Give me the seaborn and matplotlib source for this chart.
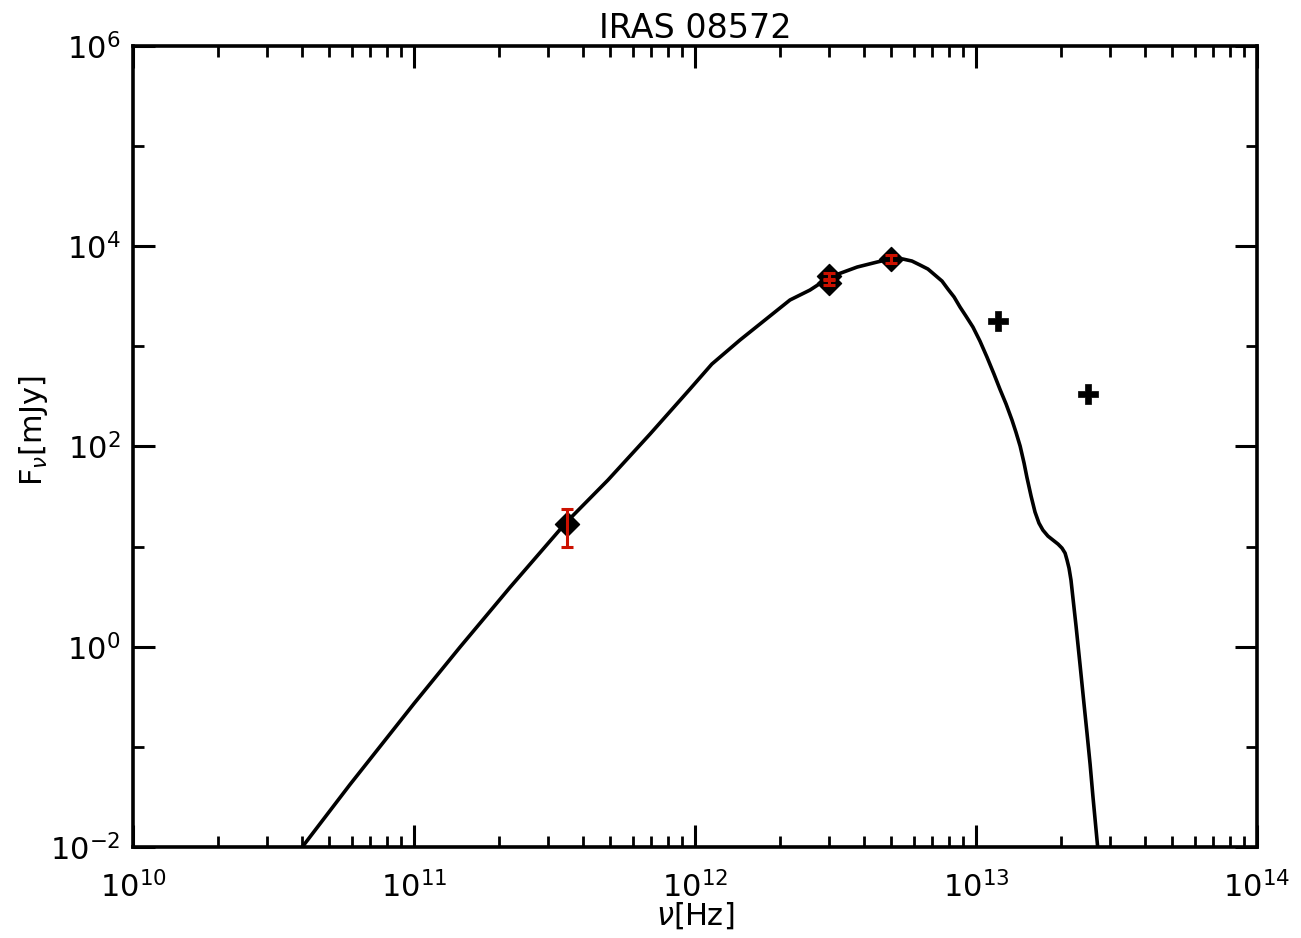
import numpy as np
import pandas as pd
import matplotlib
matplotlib.use("Agg")
import matplotlib.pyplot as plt
import matplotlib.ticker as mticker
import seaborn as sns

# SED model curve (log10 of frequency in Hz, log10 of flux density in mJy)
model_log_nu = [10.591, 10.772, 11.000, 11.164, 11.342, 11.541, 11.690, 11.840,
                11.982, 12.060, 12.160, 12.249, 12.338, 12.409, 12.480, 12.577,
                12.648, 12.694, 12.740, 12.772, 12.801, 12.829, 12.854, 12.879,
                12.900, 12.922, 12.943, 12.964, 12.989, 13.014, 13.039, 13.064,
                13.085, 13.107, 13.128, 13.142, 13.157, 13.171, 13.181, 13.196,
                13.210, 13.224, 13.238, 13.256, 13.274, 13.292, 13.306, 13.317,
                13.324, 13.331, 13.338, 13.345, 13.356, 13.370, 13.384, 13.395,
                13.406, 13.416, 13.434]
model_log_flux = [-2.042, -1.377, -0.568, -0.003, 0.594, 1.240, 1.664, 2.124,
                  2.573, 2.823, 3.063, 3.263, 3.463, 3.562, 3.692, 3.792,
                  3.842, 3.872, 3.872, 3.852, 3.812, 3.772, 3.712, 3.652,
                  3.572, 3.493, 3.393, 3.303, 3.193, 3.053, 2.893, 2.723,
                  2.573, 2.424, 2.264, 2.144, 2.004, 1.834, 1.694, 1.504,
                  1.345, 1.235, 1.165, 1.105, 1.065, 1.025, 0.985, 0.935,
                  0.865, 0.785, 0.665, 0.486, 0.206, -0.174, -0.563, -0.863,
                  -1.173, -1.493, -2.032]

# Photometry used in the fit (Hz, mJy, 1-sigma errors in mJy)
fit_nu = [3.5e11, 3.0e12, 3.0e12, 5.0e12]
fit_flux = [17.0, 5050.0, 4300.0, 7450.0]
fit_err_lo = [7.1, 350.0, 210.0, 650.0]
fit_err_hi = [6.7, 350.0, 260.0, 700.0]

# Mid-infrared photometry not used in the fit
extra_nu = [1.2e13, 2.5e13]
extra_flux = [1790.0, 333.0]

model = pd.DataFrame({"nu": np.power(10.0, model_log_nu),
                      "flux": np.power(10.0, model_log_flux)})
fit = pd.DataFrame({"nu": fit_nu, "flux": fit_flux})
extra = pd.DataFrame({"nu": extra_nu, "flux": extra_flux})

sns.set_theme(style="white")
plt.rcParams["font.family"] = ["DejaVu Sans"]
plt.rcParams["mathtext.fontset"] = "dejavusans"
for key in ("text.color", "axes.labelcolor", "xtick.color", "ytick.color",
            "axes.edgecolor"):
    plt.rcParams[key] = "black"

fig = plt.figure(figsize=(13.01, 9.38), dpi=100)
ax = fig.add_axes([0.1022, 0.0970, 0.8640, 0.8540])

ax.set_xscale("log")
ax.set_yscale("log")

sns.lineplot(data=model, x="nu", y="flux", sort=False, color="black",
             linewidth=2.6, ax=ax, zorder=2)
sns.scatterplot(data=fit, x="nu", y="flux", marker="D", s=150, color="black",
                edgecolor="black", linewidth=1.0, ax=ax, zorder=3)
ax.errorbar(fit_nu, fit_flux, yerr=[fit_err_lo, fit_err_hi], fmt="none",
            ecolor="#cc1100", elinewidth=2.2, capsize=4, capthick=2.2, zorder=4)
sns.scatterplot(data=extra, x="nu", y="flux", marker="P", s=220, color="black",
                edgecolor="black", linewidth=0.5, ax=ax, zorder=3)

ax.set_xlim(1e10, 1e14)
ax.set_ylim(1e-2, 1e6)

ax.xaxis.set_major_locator(mticker.LogLocator(base=10, numticks=10))
ax.xaxis.set_minor_locator(mticker.LogLocator(base=10, subs=np.arange(2, 10), numticks=20))
ax.xaxis.set_minor_formatter(mticker.NullFormatter())
ax.yaxis.set_major_locator(mticker.FixedLocator([1e-2, 1e0, 1e2, 1e4, 1e6]))
ax.yaxis.set_minor_locator(mticker.FixedLocator([1e-1, 1e1, 1e3, 1e5]))
ax.yaxis.set_minor_formatter(mticker.NullFormatter())
ax.yaxis.set_major_formatter(mticker.LogFormatterSciNotation())

ax.tick_params(which="both", direction="in", top=True, right=True,
               bottom=True, left=True, color="black")
ax.tick_params(which="major", length=16, width=2.2, labelsize=22)
ax.tick_params(axis="x", which="major", pad=17)
ax.tick_params(axis="y", which="major", length=16, pad=9)
ax.tick_params(which="minor", length=8, width=2.0)
for side in ax.spines.values():
    side.set_linewidth(2.6)
    side.set_color("black")

ax.set_xlabel(r"$\nu$[Hz]", fontsize=22, labelpad=-2)
ax.set_ylabel(r"F$_\nu$[mJy]", fontsize=22)
ax.yaxis.set_label_coords(-0.074, 0.52)
ax.set_title("IRAS 08572", fontsize=24, pad=6)

fig.savefig("out.png", dpi=100, facecolor="white")
